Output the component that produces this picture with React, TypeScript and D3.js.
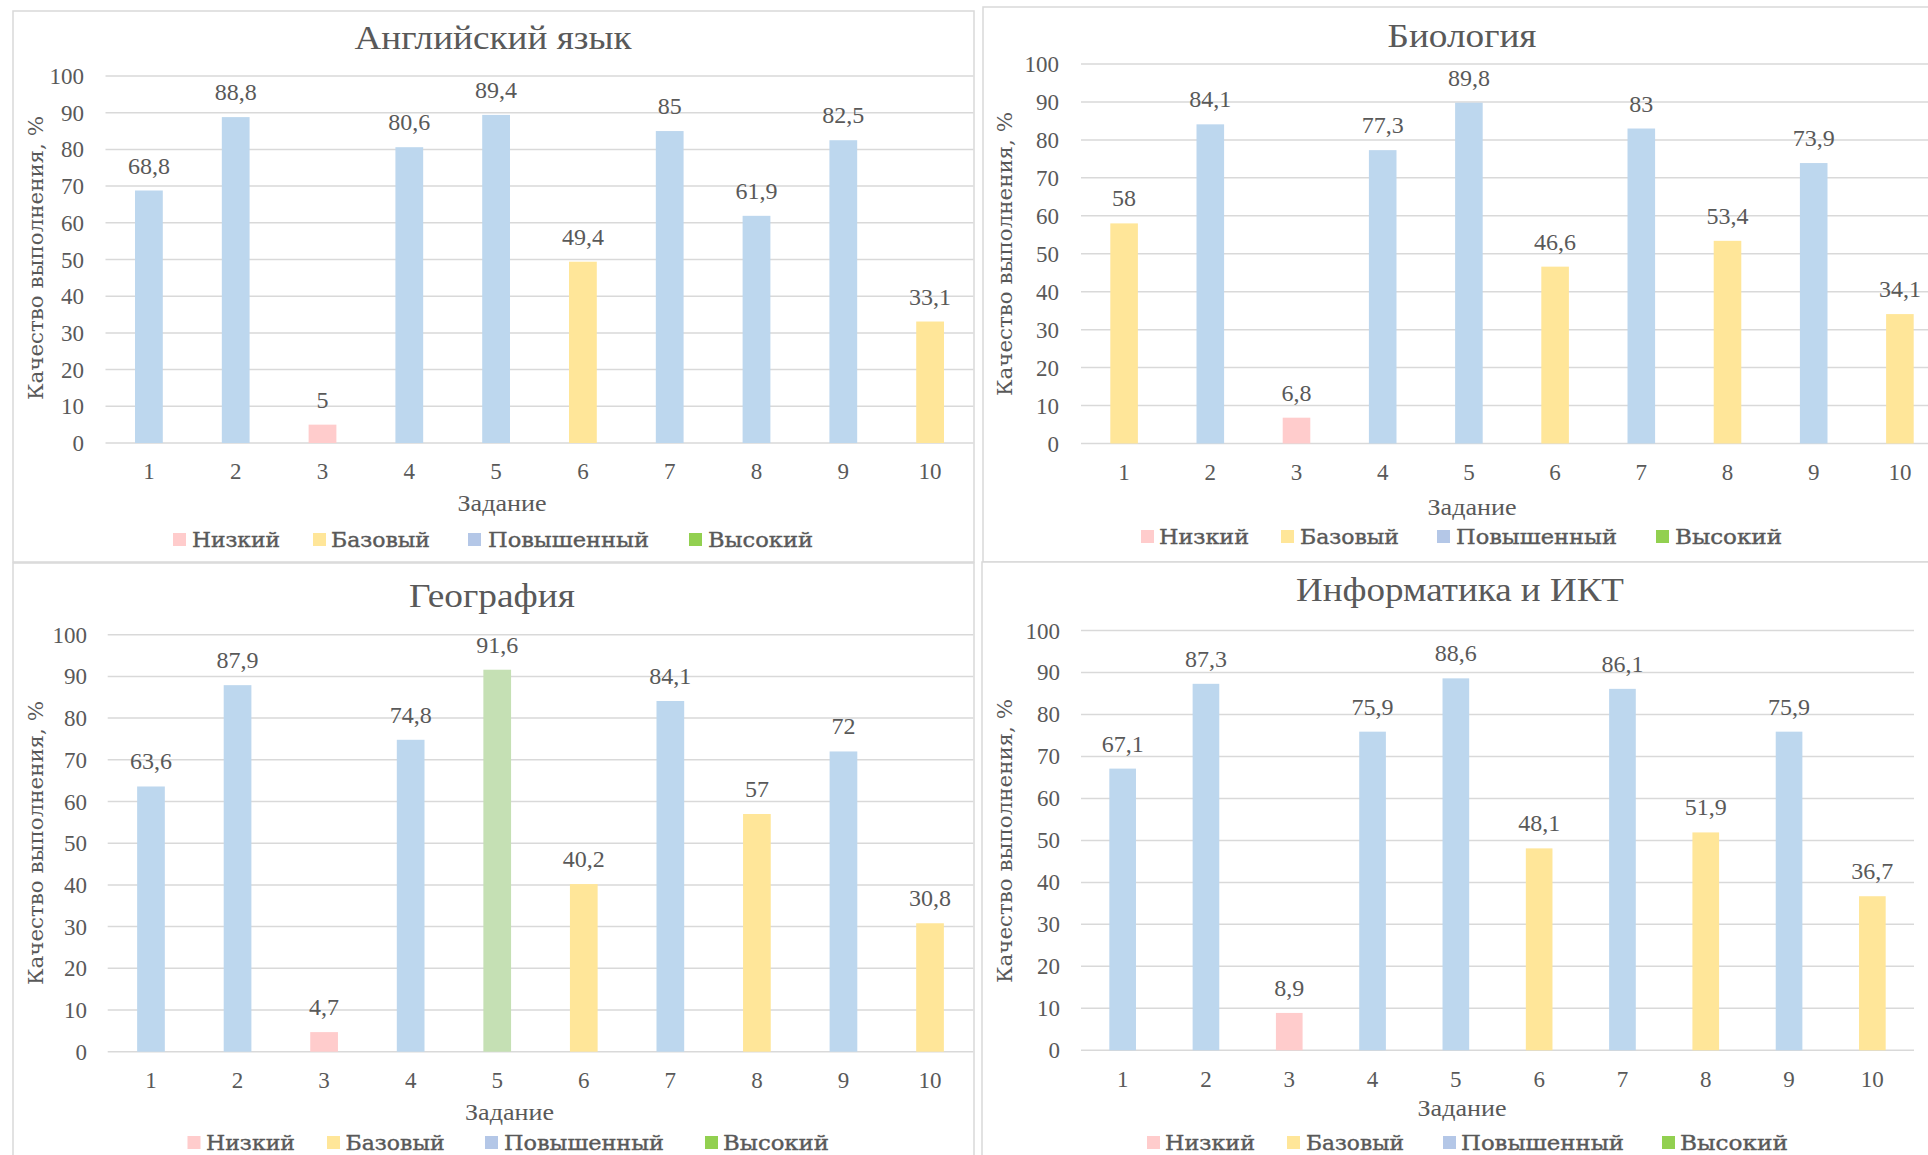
import React from "react";
import * as d3 from "d3";

const categories = ["1", "2", "3", "4", "5", "6", "7", "8", "9", "10"];
const yTicks = [0, 10, 20, 30, 40, 50, 60, 70, 80, 90, 100];
const levelNames = ["Низкий", "Базовый", "Повышенный", "Высокий"];

const englishValues = [68.8, 88.8, 5, 80.6, 89.4, 49.4, 85, 61.9, 82.5, 33.1];
const englishLevels = [2, 2, 0, 2, 2, 1, 2, 2, 2, 1];

const biologyValues = [58, 84.1, 6.8, 77.3, 89.8, 46.6, 83, 53.4, 73.9, 34.1];
const biologyLevels = [1, 2, 0, 2, 2, 1, 2, 1, 2, 1];

const geographyValues = [63.6, 87.9, 4.7, 74.8, 91.6, 40.2, 84.1, 57, 72, 30.8];
const geographyLevels = [2, 2, 0, 2, 3, 1, 2, 1, 2, 1];

const informaticsValues = [67.1, 87.3, 8.9, 75.9, 88.6, 48.1, 86.1, 51.9, 75.9, 36.7];
const informaticsLevels = [2, 2, 0, 2, 2, 1, 2, 1, 2, 1];

const subjects = ["Английский язык", "Биология", "География", "Информатика и ИКТ"];

const barColors = ["#ffcccc", "#ffe699", "#bdd7ee", "#c5e0b4"];
const legendColors = ["#ffcccc", "#ffe699", "#b4c7e7", "#92d050"];
const TEXT = "#595959";
const GRID = "#d9d9d9";
const SERIF = "Liberation Serif";
const WIDE = "DejaVu Serif";

type Layout = {
  box: [number, number, number, number];
  y0: number;
  y100: number;
  x0: number;
  x1: number;
  titleX: number;
  titleY: number;
  titleW: number;
  tickX: number;
  catY: number;
  xTitleX: number;
  xTitleY: number;
  yTitleX: number;
  yTitleY: number;
  legSqY: number;
  legSq: number[];
  legTx: number[];
  legW: number[];
};

const layouts: Layout[] = [
  {
    box: [13, 11, 974, 562],
    y0: 443, y100: 76, x0: 105.5, x1: 973.5,
    titleX: 493, titleY: 49, titleW: 277,
    tickX: 84, catY: 479, xTitleX: 502, xTitleY: 511,
    yTitleX: 35.5, yTitleY: 258,
    legSqY: 533, legSq: [173, 313, 468, 689], legTx: [192, 331, 488, 708], legW: [88, 99, 161, 105],
  },
  {
    box: [983, 7, 1941, 562],
    y0: 443.5, y100: 64, x0: 1081, x1: 1943,
    titleX: 1462, titleY: 47, titleW: 149,
    tickX: 1059, catY: 480, xTitleX: 1472, xTitleY: 515,
    yTitleX: 1005, yTitleY: 254,
    legSqY: 530, legSq: [1141, 1281, 1437, 1656], legTx: [1159, 1300, 1456, 1675], legW: [90, 99, 161, 107],
  },
  {
    box: [13, 563, 974, 1170],
    y0: 1051.7, y100: 634.7, x0: 107.7, x1: 973.3,
    titleX: 492, titleY: 607, titleW: 166,
    tickX: 87, catY: 1087.7, xTitleX: 509.5, xTitleY: 1120,
    yTitleX: 35.5, yTitleY: 843,
    legSqY: 1136, legSq: [187.5, 327, 485, 705], legTx: [206, 345.6, 504, 723], legW: [89, 99, 160, 106],
  },
  {
    box: [982, 562, 1941, 1170],
    y0: 1050.3, y100: 630.5, x0: 1081, x1: 1914,
    titleX: 1460, titleY: 601, titleW: 328,
    tickX: 1060, catY: 1087, xTitleX: 1462, xTitleY: 1116,
    yTitleX: 1005, yTitleY: 841,
    legSqY: 1136, legSq: [1147, 1287, 1443, 1662], legTx: [1165, 1306, 1461, 1680], legW: [90, 98, 163, 108],
  },
];

const seriesValues = [englishValues, biologyValues, geographyValues, informaticsValues];
const seriesLevels = [englishLevels, biologyLevels, geographyLevels, informaticsLevels];

const fmt = (v: number) => String(v).replace(".", ",");

const serif = (size: number): React.CSSProperties => ({ fontFamily: `"${SERIF}", "Times New Roman", serif`, fontSize: size, fill: TEXT });
const wide = (size: number): React.CSSProperties => ({ fontFamily: `"${WIDE}", serif`, fontSize: size, fill: TEXT });

function Panel({ idx }: { idx: number }) {
  const L = layouts[idx];
  const values = seriesValues[idx];
  const levels = seriesLevels[idx];
  const x = d3.scaleBand<string>().domain(categories).range([L.x0, L.x1]).paddingInner(0.68).paddingOuter(0.34);
  const y = d3.scaleLinear().domain([0, 100]).range([L.y0, L.y100]);
  const [bx0, by0, bx1, by1] = L.box;
  return (
    <g>
      <rect x={bx0} y={by0} width={bx1 - bx0} height={by1 - by0} fill="#fff" stroke={GRID} strokeWidth={1.5} />
      <text x={L.titleX} y={L.titleY} textAnchor="middle" style={serif(33)}
        textLength={L.titleW} lengthAdjust="spacingAndGlyphs">{subjects[idx]}</text>
      {yTicks.map((t) => (
        <g key={t}>
          <line x1={L.x0} x2={L.x1} y1={y(t)} y2={y(t)} stroke={GRID} strokeWidth={1.5} />
          <text x={L.tickX} y={y(t) + 8} textAnchor="end" style={serif(23)}>{t}</text>
        </g>
      ))}
      {categories.map((c, i) => (
        <g key={c}>
          <rect x={x(c)} y={y(values[i])} width={x.bandwidth()} height={y(0) - y(values[i])} fill={barColors[levels[i]]} />
          <text x={(x(c) as number) + x.bandwidth() / 2} y={y(values[i]) - 17} textAnchor="middle" style={serif(24)}>{fmt(values[i])}</text>
          <text x={(x(c) as number) + x.bandwidth() / 2} y={L.catY} textAnchor="middle" style={serif(23)}>{c}</text>
        </g>
      ))}
      <text x={L.xTitleX} y={L.xTitleY} textAnchor="middle" style={serif(23)} textLength={89} lengthAdjust="spacingAndGlyphs">Задание</text>
      <text transform={`translate(${L.yTitleX},${L.yTitleY}) rotate(-90)`} x={0} y={7} textAnchor="middle" style={wide(20)}
        textLength={284} lengthAdjust="spacingAndGlyphs">Качество выполнения, %</text>
      {levelNames.map((n, k) => (
        <g key={n}>
          <rect x={L.legSq[k]} y={L.legSqY} width={13} height={13} fill={legendColors[k]} />
          <text x={L.legTx[k]} y={L.legSqY + 14} style={{ ...wide(21), stroke: TEXT, strokeWidth: 0.4 }}
            textLength={L.legW[k]} lengthAdjust="spacingAndGlyphs">{n}</text>
        </g>
      ))}
    </g>
  );
}

export default function App() {
  return (
    <div style={{ position: "fixed", left: 0, top: 0, width: 1928, height: 1155, background: "#fff" }}>
      <svg width={1928} height={1155} style={{ display: "block" }}>
        <rect x={0} y={0} width={1928} height={1155} fill="#fff" />
        {[0, 1, 2, 3].map((i) => (
          <Panel key={i} idx={i} />
        ))}
      </svg>
    </div>
  );
}
